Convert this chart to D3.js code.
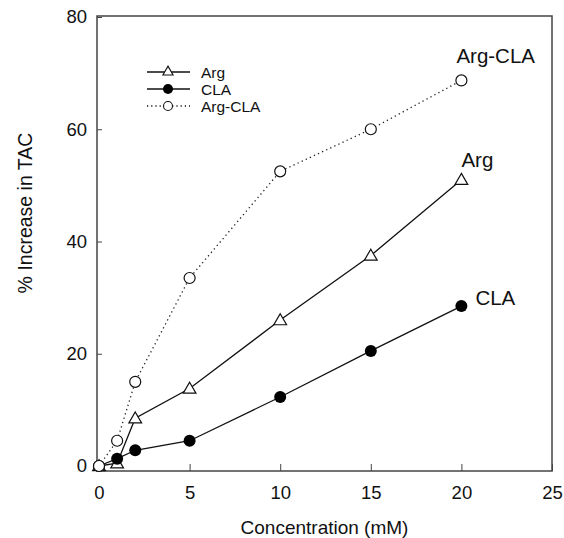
<!DOCTYPE html>
<html>
<head>
<meta charset="utf-8">
<script src="https://cdn.jsdelivr.net/npm/d3@7"></script>
<style>
  body { margin: 0; background: #fff; }
  text { font-family: Arial, "Liberation Sans", sans-serif; fill: #111; }
</style>
</head>
<body>
<svg id="chart" width="564" height="538"></svg>
<script>
const concentration = [0, 1, 2, 5, 10, 15, 20];
const argValues = [0, 0.5, 8.5, 13.8, 26, 37.5, 51];
const claValues = [0, 1.3, 2.8, 4.5, 12.3, 20.5, 28.5];
const argClaValues = [0, 4.5, 15, 33.5, 52.5, 60, 68.7];
const xTicks = [0, 5, 10, 15, 20, 25];
const yTicks = [0, 20, 40, 60, 80];

const box = { left: 97, right: 552, top: 16, bottom: 471 };
const font = "Arial, 'Liberation Sans', sans-serif";

const x = d3.scaleLinear().domain([0, 25]).range([99, 552]);
const y = d3.scaleLinear().domain([0, 80]).range([466, 17]);

const svg = d3.select("#chart");

// frame
svg.append("rect")
  .attr("x", box.left).attr("y", box.top)
  .attr("width", box.right - box.left).attr("height", box.bottom - box.top)
  .attr("fill", "none").attr("stroke", "#444").attr("stroke-width", 1.5);

// x axis, ticks point inward
const xAxis = svg.append("g")
  .attr("transform", `translate(0,${box.bottom})`)
  .call(d3.axisBottom(x).tickValues(xTicks).tickSizeInner(-7).tickSizeOuter(0).tickPadding(15));
xAxis.select(".domain").remove();
xAxis.selectAll("line").attr("stroke", "#444");
xAxis.selectAll("text").attr("font-size", 18.5).attr("fill", "#111").attr("font-family", font);

// y axis
const yAxis = svg.append("g")
  .attr("transform", `translate(${box.left},0)`)
  .call(d3.axisLeft(y).tickValues(yTicks).tickSizeInner(-5).tickSizeOuter(0).tickPadding(10));
yAxis.select(".domain").remove();
yAxis.selectAll("line").attr("stroke", "#444");
yAxis.selectAll("text").attr("font-size", 18.5).attr("fill", "#111").attr("font-family", font);

// titles
svg.append("text")
  .attr("x", (box.left + box.right) / 2).attr("y", 534)
  .attr("text-anchor", "middle").attr("font-size", 19)
  .text("Concentration (mM)");
svg.append("text")
  .attr("transform", "translate(32,213) rotate(-90)")
  .attr("text-anchor", "middle").attr("font-size", 19.5)
  .text("% Increase in TAC");

const line = d3.line().x((d, i) => x(concentration[i])).y(d => y(d));
const tri = d3.symbol().type(d3.symbolTriangle);

// series lines
svg.append("path").datum(argClaValues).attr("d", line)
  .attr("fill", "none").attr("stroke", "#222").attr("stroke-width", 1.3)
  .attr("stroke-dasharray", "1.3,3.2");
svg.append("path").datum(argValues).attr("d", line)
  .attr("fill", "none").attr("stroke", "#111").attr("stroke-width", 1.3);
svg.append("path").datum(claValues).attr("d", line)
  .attr("fill", "none").attr("stroke", "#111").attr("stroke-width", 1.3);

// markers
svg.append("g").selectAll("path").data(argValues).join("path")
  .attr("d", tri.size(70)())
  .attr("transform", (d, i) => `translate(${x(concentration[i])},${y(d) + 1})`)
  .attr("fill", "#fff").attr("stroke", "#111").attr("stroke-width", 1.2);
svg.append("g").selectAll("circle").data(claValues).join("circle")
  .attr("cx", (d, i) => x(concentration[i])).attr("cy", d => y(d))
  .attr("r", 6).attr("fill", "#000");
svg.append("g").selectAll("circle").data(argClaValues).join("circle")
  .attr("cx", (d, i) => x(concentration[i])).attr("cy", d => y(d))
  .attr("r", 5.5).attr("fill", "#fff").attr("stroke", "#111").attr("stroke-width", 1.2);

// labels at the end of each curve
const endLabels = [
  { text: "Arg-CLA", v: argClaValues[6], dx: -5, dy: -17 },
  { text: "Arg", v: argValues[6], dx: 0, dy: -13 },
  { text: "CLA", v: claValues[6], dx: 14, dy: -1 }
];
svg.append("g").selectAll("text").data(endLabels).join("text")
  .attr("x", d => x(20) + d.dx).attr("y", d => y(d.v) + d.dy)
  .attr("font-size", 20.5)
  .text(d => d.text);

// legend
const legend = [
  { label: "Arg", kind: "tri", dash: null, y: 72 },
  { label: "CLA", kind: "dot", dash: null, y: 89 },
  { label: "Arg-CLA", kind: "open", dash: "1.2,3", y: 106 }
];
const lg = svg.append("g");
legend.forEach(l => {
  lg.append("line").attr("x1", 147).attr("x2", 190).attr("y1", l.y).attr("y2", l.y)
    .attr("stroke", "#111").attr("stroke-width", 1.3)
    .attr("stroke-dasharray", l.dash);
  if (l.kind === "tri") {
    lg.append("path").attr("d", tri.size(45)()).attr("transform", `translate(168,${l.y})`)
      .attr("fill", "#fff").attr("stroke", "#111").attr("stroke-width", 1.1);
  } else if (l.kind === "dot") {
    lg.append("circle").attr("cx", 168).attr("cy", l.y).attr("r", 5).attr("fill", "#000");
  } else {
    lg.append("circle").attr("cx", 168).attr("cy", l.y).attr("r", 4.5)
      .attr("fill", "#fff").attr("stroke", "#111").attr("stroke-width", 1.1);
  }
  lg.append("text").attr("x", 201).attr("y", l.y + 5.5).attr("font-size", 15.5).text(l.label);
});
</script>
</body>
</html>
